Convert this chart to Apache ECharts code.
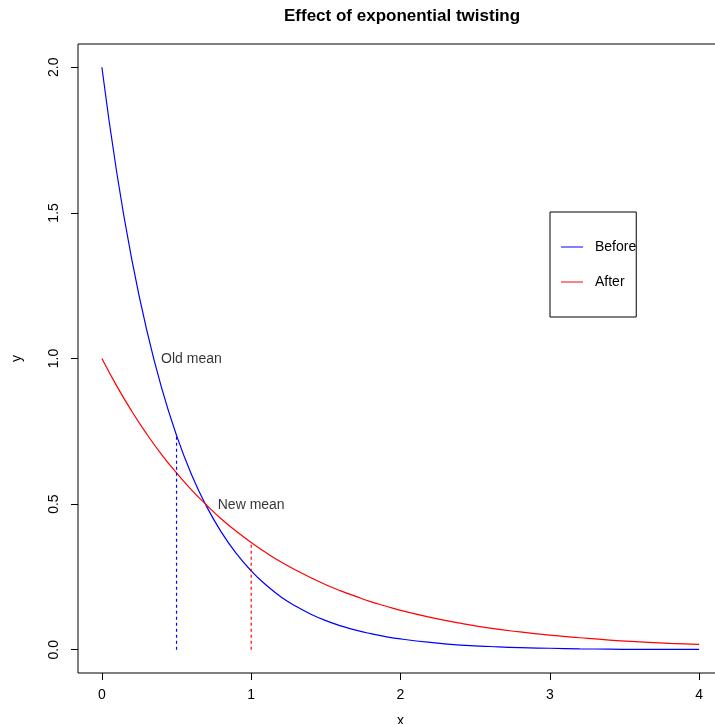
<!DOCTYPE html>
<html>
<head>
<meta charset="utf-8">
<script src="https://cdn.jsdelivr.net/npm/echarts@6/dist/echarts.min.js"></script>
<style>
  html, body { margin: 0; padding: 0; background: #fff; }
  #chart { width: 715px; height: 724px; }
</style>
</head>
<body>
<div id="chart"></div>
<script>
// x positions the curves were read at
const xs = [0, 0.1, 0.2, 0.3, 0.4, 0.5, 0.6, 0.7, 0.8, 0.9, 1.0,
  1.1, 1.2, 1.3, 1.4, 1.5, 1.6, 1.7, 1.8, 1.9, 2.0,
  2.2, 2.4, 2.6, 2.8, 3.0, 3.2, 3.4, 3.6, 3.8, 4.0];

// "Before" density (blue)
const before = [2.000, 1.637, 1.341, 1.098, 0.899, 0.736, 0.602, 0.493, 0.404, 0.331, 0.271,
  0.222, 0.181, 0.149, 0.122, 0.100, 0.082, 0.067, 0.055, 0.045, 0.037,
  0.025, 0.016, 0.011, 0.007, 0.005, 0.003, 0.002, 0.001, 0.001, 0.001];

// "After" density (red)
const after = [1.000, 0.905, 0.819, 0.741, 0.670, 0.607, 0.549, 0.497, 0.449, 0.407, 0.368,
  0.333, 0.301, 0.273, 0.247, 0.223, 0.202, 0.183, 0.165, 0.150, 0.135,
  0.111, 0.091, 0.074, 0.061, 0.050, 0.041, 0.033, 0.027, 0.022, 0.018];

// mean markers
const oldMean = [[0.5, 0], [0.5, 0.736]];
const newMean = [[1.0, 0], [1.0, 0.368]];

// annotations
const notes = [
  { name: 'Old mean', value: [0.6, 1.0] },
  { name: 'New mean', value: [1.0, 0.5] }
];

const xTicks = [0, 1, 2, 3, 4];
const yTicks = [0, 0.5, 1, 1.5, 2];

const font = 'Liberation Sans, Arial, Helvetica, sans-serif';
const pair = (a, b) => a.map((v, i) => [v, b[i]]);

const chart = echarts.init(document.getElementById('chart'));

chart.setOption({
  animation: false,
  backgroundColor: '#fff',
  title: {
    text: 'Effect of exponential twisting',
    left: 279,
    top: 3,
    textStyle: { fontFamily: font, fontSize: 17, fontWeight: 'bold', color: '#000' }
  },
  legend: {
    data: [
      { name: 'Before', icon: 'rect' },
      { name: 'After', icon: 'rect' }
    ],
    orient: 'vertical',
    left: 550,
    top: 212,
    padding: [28, 0, 28, 11],
    itemGap: 21,
    itemWidth: 22,
    itemHeight: 1,
    borderColor: '#000',
    borderWidth: 1,
    borderRadius: 0,
    selectedMode: false,
    textStyle: { fontFamily: font, fontSize: 14, color: '#000', padding: [0, 0, 0, 7] }
  },
  grid: {
    left: 78,
    top: 44,
    width: 645,
    height: 629,
    outerBoundsMode: 'none',
    containLabel: false,
    show: true,
    borderColor: '#000',
    borderWidth: 1
  },
  xAxis: {
    type: 'value',
    min: -0.16,
    max: 4.16,
    name: 'x',
    nameLocation: 'middle',
    nameGap: 41,
    nameTextStyle: { fontFamily: font, fontSize: 14, color: '#000' },
    axisLine: { show: false, onZero: false },
    splitLine: { show: false },
    axisTick: { show: true, inside: false, length: 7, customValues: xTicks, lineStyle: { color: '#000' } },
    axisLabel: {
      customValues: xTicks,
      margin: 15,
      fontFamily: font,
      fontSize: 14,
      color: '#000'
    }
  },
  yAxis: {
    type: 'value',
    min: -0.08,
    max: 2.08,
    name: 'y',
    nameLocation: 'middle',
    nameGap: 54,
    nameTextStyle: { fontFamily: font, fontSize: 14, color: '#000' },
    axisLine: { show: false, onZero: false },
    splitLine: { show: false },
    axisTick: { show: true, inside: false, length: 7, customValues: yTicks, lineStyle: { color: '#000' } },
    axisLabel: {
      customValues: yTicks,
      rotate: 90,
      margin: 17,
      fontFamily: font,
      fontSize: 14,
      color: '#000',
      formatter: v => v.toFixed(1)
    }
  },
  series: [
    {
      name: 'Before',
      type: 'line',
      data: pair(xs, before),
      smooth: true,
      symbol: 'none',
      color: '#0000ff',
      lineStyle: { width: 1.2, color: '#0000ff' }
    },
    {
      name: 'After',
      type: 'line',
      data: pair(xs, after),
      smooth: true,
      symbol: 'none',
      color: '#ff0000',
      lineStyle: { width: 1.2, color: '#ff0000' }
    },
    {
      name: 'old mean',
      type: 'line',
      data: oldMean,
      symbol: 'none',
      lineStyle: { width: 1.2, color: '#0000ff', type: [3, 3] }
    },
    {
      name: 'new mean',
      type: 'line',
      data: newMean,
      symbol: 'none',
      lineStyle: { width: 1.2, color: '#ff0000', type: [3, 3] }
    },
    {
      name: 'notes',
      type: 'scatter',
      data: notes,
      symbolSize: 0,
      label: {
        show: true,
        position: 'inside',
        offset: [0, 1],
        formatter: p => p.name,
        fontFamily: font,
        fontSize: 14,
        color: '#000'
      }
    }
  ]
});

window.addEventListener('resize', () => chart.resize());
</script>
</body>
</html>
